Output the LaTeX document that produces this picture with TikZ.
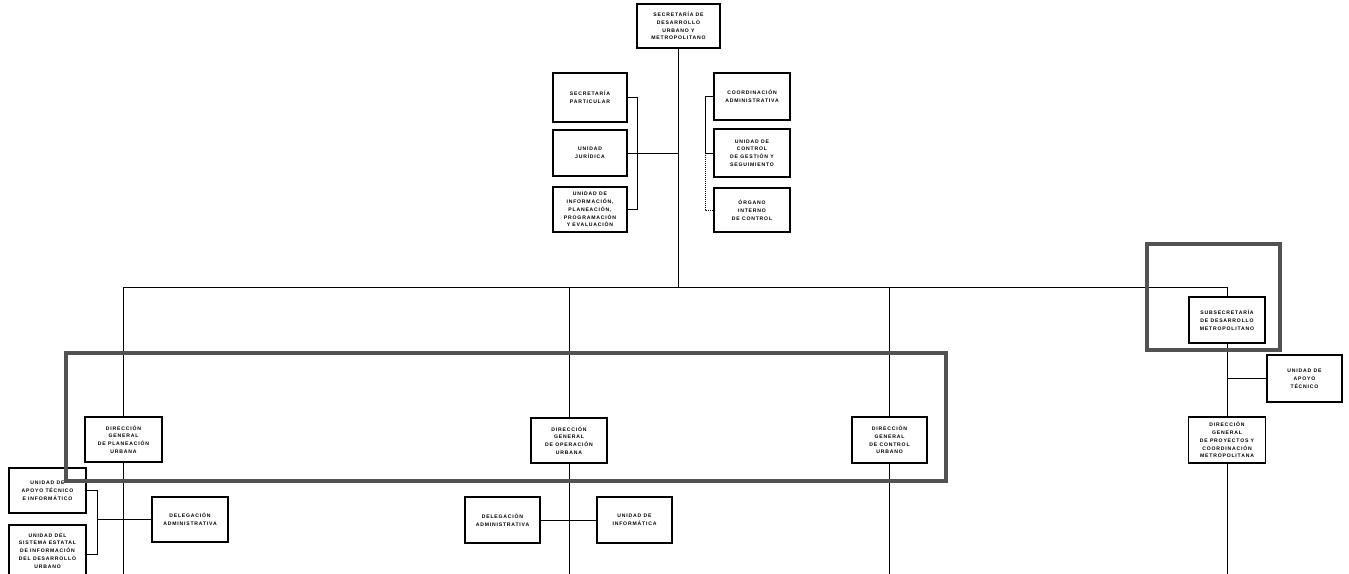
\documentclass[tikz,border=0pt]{standalone}
\usepackage{fontspec}
\setmainfont{Liberation Sans}
\newfontfamily\boxfont[LetterSpace=16]{Liberation Sans}
\begin{document}
\begin{tikzpicture}[x=1pt,y=-1pt,
  box/.style={draw, line width=1.4pt, fill=white, align=center, inner sep=1pt,
              font=\boxfont\bfseries\fontsize{5.1}{7.8}\selectfont},
  conn/.style={line width=1pt},
  hlframe/.style={draw=black!68, line width=4.5pt}]
\useasboundingbox (0,0) rectangle (1349,573);
% nodes
\node[box, minimum width=83pt, minimum height=44pt] (top) at (678.5,26) {SECRETARÍA DE\\DESARROLLO\\URBANO Y\\METROPOLITANO};
\node[box, minimum width=74pt, minimum height=49pt] (sp) at (590,97.5) {SECRETARÍA\\PARTICULAR};
\node[box, minimum width=74pt, minimum height=46pt] (uj) at (590,153) {UNIDAD\\JURÍDICA};
\node[box, minimum width=74pt, minimum height=45pt] (uipp) at (590,209.5) {UNIDAD DE\\INFORMACIÓN,\\PLANEACIÓN,\\PROGRAMACIÓN\\Y EVALUACIÓN};
\node[box, minimum width=76pt, minimum height=47pt] (ca) at (752,96.5) {COORDINACIÓN\\ADMINISTRATIVA};
\node[box, minimum width=76pt, minimum height=48pt] (ucgs) at (752,153) {UNIDAD DE\\CONTROL\\DE GESTIÓN Y\\SEGUIMIENTO};
\node[box, minimum width=76pt, minimum height=44pt] (oic) at (752,210) {ÓRGANO\\INTERNO\\DE CONTROL};
\node[box, minimum width=76pt, minimum height=46pt] (sdm) at (1227,320) {SUBSECRETARÍA\\DE DESARROLLO\\METROPOLITANO};
\node[box, minimum width=75pt, minimum height=47pt] (uat) at (1304.5,378.5) {UNIDAD DE\\APOYO\\TÉCNICO};
\node[box, minimum width=77pt, minimum height=46pt] (dgpcm) at (1227,440) {DIRECCIÓN\\GENERAL\\DE PROYECTOS Y\\COORDINACIÓN\\METROPOLITANA};
\node[box, minimum width=77pt, minimum height=45pt] (dgpu) at (123.5,439.5) {DIRECCIÓN\\GENERAL\\DE PLANEACIÓN\\URBANA};
\node[box, minimum width=76pt, minimum height=45pt] (dgou) at (569,440.5) {DIRECCIÓN\\GENERAL\\DE OPERACIÓN\\URBANA};
\node[box, minimum width=75pt, minimum height=46pt] (dgcu) at (889.5,440) {DIRECCIÓN\\GENERAL\\DE CONTROL\\URBANO};
\node[box, minimum width=77pt, minimum height=45pt] (uati) at (47.5,490.5) {UNIDAD DE\\APOYO TÉCNICO\\E INFORMÁTICO};
\node[box, minimum width=77pt, minimum height=52pt] (usei) at (47.5,551) {UNIDAD DEL\\SISTEMA ESTATAL\\DE INFORMACIÓN\\DEL DESARROLLO\\URBANO};
\node[box, minimum width=76pt, minimum height=45pt] (dela1) at (190,519.5) {DELEGACIÓN\\ADMINISTRATIVA};
\node[box, minimum width=75pt, minimum height=46pt] (dela2) at (502.5,520) {DELEGACIÓN\\ADMINISTRATIVA};
\node[box, minimum width=75pt, minimum height=46pt] (uinf) at (634.5,520) {UNIDAD DE\\INFORMÁTICA};
% helper coordinates
\coordinate (busy) at (0,287);
\coordinate (lb) at (637,0);
\coordinate (rb) at (705,153);
\coordinate (pb) at (97,519.5);
\coordinate (pageend) at (0,580);
% connectors
\draw[conn] (top.south) -- (top.south |- busy);
\draw[conn] (dgpu.north) -- (dgpu.north |- busy) -- (sdm.north |- busy) -- (sdm.north);
\draw[conn] (dgou.north) -- (dgou.north |- busy);
\draw[conn] (dgcu.north) -- (dgcu.north |- busy);
% staff left
\draw[conn] (sp.east) -- (sp.east -| lb) -- (uipp.east -| lb) -- (uipp.east);
\draw[conn] (uj.east) -- (uj.east -| top.south);
% staff right
\draw[conn] (ca.west) -| (rb) -- (ucgs.west);
\draw[conn, densely dotted] (rb) |- (oic.west);
% subsecretaria
\draw[conn] (sdm.south) -- (dgpcm.north);
\draw[conn] (uat.west) -- (uat.west -| sdm.south);
\draw[conn] (dgpcm.south) -- (dgpcm.south |- pageend);
% planeacion
\draw[conn] (dgpu.south) -- (dgpu.south |- pageend);
\draw[conn] (uati.east) -| (pb);
\draw[conn] (pb) |- ([yshift=-3pt]usei.east);
\draw[conn] (pb) -- (dela1.west);
% operacion
\draw[conn] (dgou.south) -- (dgou.south |- pageend);
\draw[conn] (dela2.east) -- (uinf.west);
% control
\draw[conn] (dgcu.south) -- (dgcu.south |- pageend);
% highlight frames
\draw[hlframe] (66,353) rectangle (946,481);
\draw[hlframe] (1147,244) rectangle (1280,350);
\end{tikzpicture}
\end{document}
